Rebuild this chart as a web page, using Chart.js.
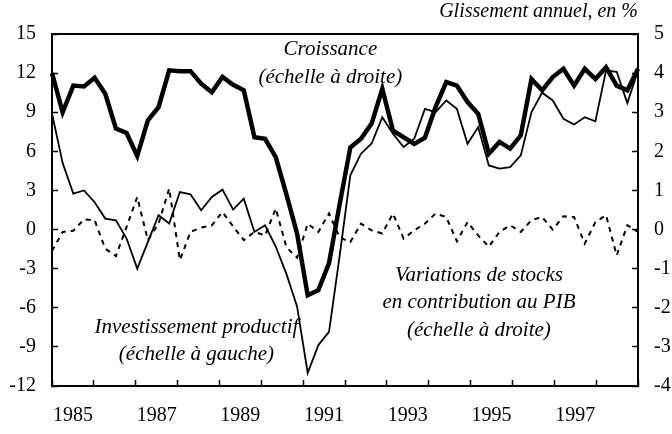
<!DOCTYPE html>
<html lang="fr">
<head>
<meta charset="utf-8">
<title>Croissance, investissement productif et stocks</title>
<script src="https://cdn.jsdelivr.net/npm/chart.js@4.4.1/dist/chart.umd.min.js"></script>
<style>
  html, body { margin: 0; padding: 0; background: #fff; }
</style>
</head>
<body>
<canvas id="myChart" width="672" height="434"></canvas>
<script>
"use strict";

// quarters 1985T1 .. 1998T4 -------------
const years = [1985, 1986, 1987, 1988, 1989, 1990, 1991, 1992, 1993, 1994, 1995, 1996, 1997, 1998];
const quarters = [];
years.forEach(y => {
  for (let q = 1; q <= 4; q++) quarters.push(y + "T" + q);
});

// years written under the axis
const yearLabels = [1985, 1987, 1989, 1991, 1993, 1995, 1997];

// axis ranges
const leftTicks = [-12, -9, -6, -3, 0, 3, 6, 9, 12, 15];
const rightTicks = [-4, -3, -2, -1, 0, 1, 2, 3, 4, 5];

// croissance du PIB, glissement annuel (right scale)
const croissance = [
  4.0, 3.0, 3.68, 3.66, 3.88, 3.47, 2.58, 2.47, 1.88, 2.79,
  3.13, 4.07, 4.05, 4.05, 3.73, 3.51, 3.9, 3.7, 3.56, 2.36,
  2.32, 1.85, 0.9, -0.1, -1.68, -1.55, -0.86, 0.65, 2.1, 2.32,
  2.71, 3.6, 2.53, 2.36, 2.19, 2.35, 3.13, 3.77, 3.68, 3.26,
  2.96, 1.94, 2.24, 2.07, 2.41, 3.85, 3.56, 3.9, 4.11, 3.68,
  4.11, 3.85, 4.15, 3.68, 3.56, 4.11
];

// investissement productif (left scale)
const investissement = [
  8.9, 5.1, 2.76, 3.0, 2.1, 0.84, 0.71, -0.69, -3.0, -0.95,
  1.1, 0.46, 2.88, 2.7, 1.48, 2.5, 3.06, 1.53, 2.37, -0.18,
  0.33, -1.3, -3.4, -5.9, -11.0, -8.86, -7.84, -2.0, 4.16, 5.82,
  6.6, 8.62, 7.35, 6.33, 6.97, 9.26, 9.0, 9.9, 9.26, 6.58,
  7.86, 4.92, 4.67, 4.79, 5.69, 9.0, 10.5, 9.9, 8.5, 8.06,
  8.62, 8.3, 12.2, 12.1, 9.7, 12.2
];

// variations de stocks, contribution au PIB (right scale)
const stocks = [
  -0.55, -0.06, -0.03, 0.26, 0.24, -0.49, -0.68, 0.07, 0.83, -0.27,
  0.15, 1.05, -0.78, -0.06, 0.05, 0.11, 0.45, 0.08, -0.27, -0.06,
  -0.15, 0.54, -0.45, -0.72, 0.15, -0.06, 0.41, -0.2, -0.32, 0.15,
  -0.02, -0.1, 0.41, -0.23, -0.02, 0.15, 0.41, 0.32, -0.3, 0.19,
  -0.15, -0.44, -0.06, 0.11, -0.06, 0.24, 0.32, 0.0, 0.34, 0.32,
  -0.36, 0.19, 0.37, -0.66, 0.11, -0.06
];

// series captions, placed in years / left-scale units
const notes = [
  { x: 1991.65, y: [13.8, 11.7], lines: ["Croissance", "(échelle à droite)"] },
  { x: 1995.2, y: [-3.5, -5.6, -7.75], lines: ["Variations de stocks", "en contribution au PIB", "(échelle à droite)"] },
  { x: 1988.45, y: [-7.5, -9.6], lines: ["Investissement productif", "(échelle à gauche)"] }
];

const serif = "'Liberation Serif', 'Times New Roman', serif";

const notesPlugin = {
  id: "notes",
  afterDatasetsDraw(chart) {
    const ctx = chart.ctx;
    const xs = chart.scales.years;
    const ys = chart.scales.y;
    ctx.save();
    ctx.font = "italic 21px " + serif;
    ctx.fillStyle = "#000";
    ctx.textAlign = "center";
    ctx.textBaseline = "middle";
    notes.forEach(n => {
      n.lines.forEach((line, k) => {
        ctx.fillText(line, xs.getPixelForValue(n.x), ys.getPixelForValue(n.y[k]));
      });
    });
    ctx.restore();
  }
};

const tickFont = { family: serif, size: 20 };

const ctx = document.getElementById("myChart").getContext("2d");
const myChart = new Chart(ctx, {
  type: "line",
  data: {
    labels: quarters,
    datasets: [
      {
        label: "Croissance",
        data: croissance,
        yAxisID: "y2",
        borderColor: "#000",
        borderWidth: 4.5,
        pointRadius: 0,
      },
      {
        label: "Investissement productif",
        data: investissement,
        yAxisID: "y",
        borderColor: "#000",
        borderWidth: 1.8,
        pointRadius: 0,
      },
      {
        label: "Variations de stocks",
        data: stocks,
        yAxisID: "y2",
        borderColor: "#000",
        borderWidth: 2,
        borderDash: [5, 5],
        pointRadius: 0,
      },
    ],
  },
  options: {
    responsive: false,
    animation: false,
    layout: { padding: 0 },
    plugins: {
      legend: { display: false },
      tooltip: { enabled: false },
      title: {
        display: true,
        text: "Glissement annuel, en %",
        align: "end",
        fullSize: false,
        color: "#000",
        font: { family: serif, size: 20, style: "italic", weight: "normal" },
        padding: { top: 0, bottom: 10 },
      },
    },
    scales: {
      x: { display: false },
      years: {
        type: "linear",
        position: "bottom",
        min: 1985,
        max: 1999,
        afterBuildTicks(scale) {
          const t = [];
          for (let v = 1985; v <= 1999; v += 0.5) t.push({ value: v });
          scale.ticks = t;
        },
        afterFit(scale) { scale.height = 48; },
        ticks: {
          autoSkip: false,
          maxRotation: 0,
          padding: 24,
          color: "#000",
          font: tickFont,
          callback: v => (!Number.isInteger(v) && yearLabels.includes(Math.floor(v))) ? String(Math.floor(v)) : "",
        },
        grid: {
          drawOnChartArea: false,
          tickLength: -6,
          tickWidth: 1.5,
          tickColor: c => Number.isInteger(c.tick.value) ? "#000" : "rgba(0,0,0,0)",
        },
        border: { color: "#000", width: 2 },
      },
      top: {
        type: "linear",
        position: "top",
        min: 1985,
        max: 1999,
        afterFit(scale) { scale.height = 0; },
        ticks: { display: false },
        grid: { drawOnChartArea: false, drawTicks: false },
        border: { color: "#000", width: 2 },
      },
      y: {
        position: "left",
        min: leftTicks[0],
        max: leftTicks[leftTicks.length - 1],
        afterFit(scale) { scale.width = 52; },
        ticks: { stepSize: 3, padding: 22, color: "#000", font: tickFont },
        grid: { drawOnChartArea: false, tickLength: -6, tickWidth: 1.5, tickColor: "#000" },
        border: { color: "#000", width: 2 },
      },
      y2: {
        position: "right",
        min: rightTicks[0],
        max: rightTicks[rightTicks.length - 1],
        afterFit(scale) { scale.width = 34; },
        ticks: { stepSize: 1, padding: 22, color: "#000", font: tickFont },
        grid: { drawOnChartArea: false, tickLength: -6, tickWidth: 1.5, tickColor: "#000" },
        border: { color: "#000", width: 2 },
      },
    },
  },
  plugins: [notesPlugin],
});
</script>
</body>
</html>
